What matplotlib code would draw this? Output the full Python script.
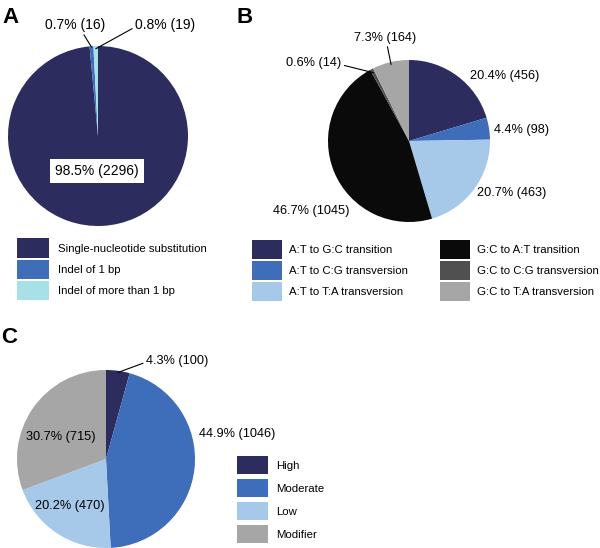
import matplotlib.pyplot as plt
import numpy as np

plt.rcParams["font.family"] = ["Liberation Sans", "DejaVu Sans"]

# ---- data ----
mut_labels = ["Single-nucleotide substitution", "Indel of 1 bp", "Indel of more than 1 bp"]
mut_counts = [2296, 16, 19]

snv_labels = ["A:T to G:C transition", "A:T to C:G transversion", "A:T to T:A transversion",
              "G:C to A:T transition", "G:C to C:G transversion", "G:C to T:A transversion"]
snv_counts = [456, 98, 463, 1045, 14, 164]

impact_labels = ["High", "Moderate", "Low", "Modifier"]
impact_counts = [100, 1046, 470, 715]

# ---- colours ----
navy = "#2d2c5e"
blue = "#3e6db9"
lblue = "#a6c9ea"
cyan = "#a8e0e7"
black = "#0a0a0a"
dgray = "#505050"
gray = "#a6a6a6"

W, H = 600, 548
fig = plt.figure(figsize=(W / 100, H / 100), dpi=100)
ax = fig.add_axes([0, 0, 1, 1])


def pct_text(counts):
    tot = sum(counts)
    return [f"{100 * c / tot:.1f}% ({c})" for c in counts]


def draw_pie(counts, colors, center, radius, label_pos, leaders, fs):
    # y axis points down (pixel coords), so counterclock=True draws clockwise on screen
    wedges, _ = ax.pie(counts, colors=colors, startangle=-90, counterclock=True,
                       center=center, radius=radius,
                       wedgeprops=dict(linewidth=0))
    out = []
    for i, (w, t, pos) in enumerate(zip(wedges, pct_text(counts), label_pos)):
        if i in leaders:
            mid = np.deg2rad((w.theta1 + w.theta2) / 2)
            rr = leaders[i][1] * radius
            xy = (center[0] + rr * np.cos(mid), center[1] + rr * np.sin(mid))
            txt = ax.annotate(t, xy=xy, xytext=pos, ha="center", va="center", fontsize=fs,
                              arrowprops=dict(arrowstyle="-", lw=0.8, color="black",
                                              shrinkA=0, shrinkB=0, relpos=leaders[i][0]))
        else:
            txt = ax.text(pos[0], pos[1], t, ha="center", va="center", fontsize=fs)
        out.append(txt)
    return wedges, out


# panel A
wa, ta = draw_pie(mut_counts, [navy, blue, cyan], (98, 136), 90,
                  [(97, 171), (75, 25), (165, 25)],
                  {1: ((0.62, 0.0), 0.99), 2: ((0.0, 0.35), 0.97)}, 10)
ta[0].set_bbox(dict(facecolor="white", edgecolor="none", pad=3.5))

# panel B
wb, tb = draw_pie(snv_counts, [navy, blue, lblue, black, dgray, gray], (409, 141), 81,
                  [(505, 76), (522, 130), (512, 193), (311, 211), (314, 63), (385, 38)],
                  {4: ((1.0, 0.35), 0.95), 5: ((0.53, 0.0), 0.97)}, 9.2)

# panel C
wc, tc = draw_pie(impact_counts, [navy, blue, lblue, gray], (106, 459), 89,
                  [(177, 361), (237, 434), (70, 506), (61, 437)],
                  {0: ((0.0, 0.4), 0.98)}, 9.2)

# legends
leg_a = ax.legend(wa, mut_labels, loc="upper left", bbox_to_anchor=(17, 238.5),
                  bbox_transform=ax.transData, frameon=False, fontsize=8.2,
                  handlelength=2.8, handleheight=2.26, labelspacing=0.14,
                  handletextpad=0.79, borderpad=0, borderaxespad=0)
ax.add_artist(leg_a)
leg_b = ax.legend(wb, snv_labels, loc="upper left", bbox_to_anchor=(252, 239.5), ncol=2,
                  bbox_transform=ax.transData, frameon=False, fontsize=8.2,
                  handlelength=2.63, handleheight=2.2, labelspacing=0.2,
                  handletextpad=0.61, columnspacing=2.8, borderpad=0, borderaxespad=0)
ax.add_artist(leg_b)
ax.legend(wc, impact_labels, loc="upper left", bbox_to_anchor=(237, 456),
          bbox_transform=ax.transData, frameon=False, fontsize=8.2,
          handlelength=2.72, handleheight=2.05, labelspacing=0.44,
          handletextpad=0.7, borderpad=0, borderaxespad=0)

# panel letters
for letter, x, y in [("A", 2, 7), ("B", 237, 7), ("C", 1, 327)]:
    ax.text(x, y, letter, ha="left", va="top", fontsize=16, fontweight="bold")

ax.set_xlim(0, W)
ax.set_ylim(H, 0)
ax.set_aspect("auto")
ax.axis("off")

plt.savefig("out.png", dpi=100)
plt.close()
